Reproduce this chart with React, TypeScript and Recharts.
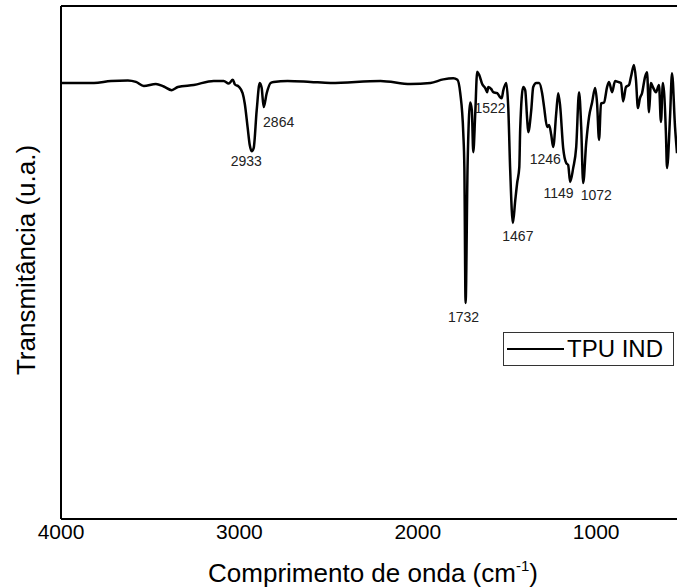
import { Legend, Line, LineChart, ReferenceDot, ReferenceLine, XAxis, YAxis } from 'recharts'

document.body.style.margin = '0'

const FONT = '"Liberation Sans", Arial, Helvetica, sans-serif'

// wavenumber (cm-1)
const wavenumbers = [
  4000, 3815, 3720, 3625, 3580, 3536, 3468, 3424, 3379, 3345,
  3256, 3144, 3088, 3060, 3037, 3025, 3004, 2982, 2970, 2954,
  2942, 2931, 2920, 2903, 2886, 2875, 2864, 2847, 2825, 2808,
  2730, 2601, 2489, 2209, 2041, 1929, 1857, 1801, 1778, 1762,
  1745, 1739, 1732, 1721, 1706, 1697, 1689, 1678, 1667, 1655,
  1639, 1622, 1611, 1605, 1588, 1577, 1555, 1538, 1530, 1521,
  1504, 1493, 1482, 1467, 1454, 1443, 1431, 1426, 1409, 1398,
  1387, 1381, 1364, 1353, 1336, 1320, 1303, 1292, 1275, 1264,
  1252, 1241, 1224, 1213, 1202, 1185, 1168, 1157, 1146, 1129,
  1112, 1096, 1084, 1073, 1056, 1040, 1023, 1006, 995, 984,
  973, 956, 939, 928, 911, 894, 877, 861, 849, 833,
  816, 805, 788, 777, 766, 755, 743, 726, 715, 704,
  693, 682, 665, 648, 637, 626, 609, 603, 586, 575,
  558, 547,
]

// transmittance (a.u.)
const transmittance = [
  85.0, 85.0, 85.4, 85.5, 85.2, 84.4, 84.8, 84.3, 83.6, 84.2,
  84.6, 85.4, 85.4, 84.9, 85.6, 84.7, 84.3, 83.0, 81.0, 76.4,
  72.9, 71.7, 72.3, 79.7, 85.0, 84.0, 80.3, 83.0, 85.0, 85.2,
  85.4, 85.2, 85.0, 85.4, 84.8, 85.0, 85.7, 85.9, 85.6, 83.0,
  75.2, 68.6, 42.1, 68.6, 81.2, 79.7, 71.5, 79.0, 87.2, 86.5,
  84.8, 84.0, 83.2, 84.2, 83.8, 83.2, 83.0, 82.2, 82.0, 83.5,
  85.0, 80.3, 68.0, 57.7, 62.0, 65.5, 68.6, 76.0, 84.2, 83.6,
  78.0, 75.4, 79.7, 84.2, 85.0, 85.0, 83.0, 80.3, 76.4, 76.8,
  74.9, 72.5, 79.1, 83.0, 80.5, 72.3, 69.4, 69.0, 65.7, 68.4,
  72.5, 83.2, 76.4, 65.5, 73.3, 78.4, 81.2, 84.0, 81.0, 73.9,
  81.0, 81.2, 84.2, 85.2, 83.2, 85.4, 85.2, 85.0, 81.4, 84.2,
  84.6, 86.2, 88.5, 85.6, 80.1, 82.0, 83.0, 86.2, 87.1, 79.3,
  85.0, 84.2, 83.2, 84.6, 77.4, 85.0, 75.1, 68.4, 78.4, 86.9,
  76.4, 71.3,
]

const peaks = [2933, 2864, 1732, 1522, 1467, 1246, 1149, 1072]
const xTicks = [4000, 3000, 2000, 1000]

// where each peak label sits relative to its band minimum (px)
const labelShift: Record<number, [number, number]> = {
  2933: [-5, 11],
  2864: [15, 15],
  1732: [-2, 14],
  1522: [-13, 16],
  1467: [5, 13],
  1246: [-7, 18],
  1149: [-11, 16],
  1072: [13, 14],
}

const spectrum = wavenumbers.map((wn, i) => ({ wn, t: transmittance[i] }))

// value of the spectrum at a wavenumber, for placing the labels
const valueAt = (wn: number) => {
  for (let i = 0; i < wavenumbers.length - 1; i++) {
    const a = wavenumbers[i]
    const b = wavenumbers[i + 1]
    if (wn <= a && wn >= b) {
      const f = (a - wn) / (a - b)
      return transmittance[i] + f * (transmittance[i + 1] - transmittance[i])
    }
  }
  return transmittance[transmittance.length - 1]
}

const LegendBox = () => (
  <div
    style={{
      width: 171,
      height: 34,
      boxSizing: 'border-box',
      border: '1px solid #333',
      background: '#fff',
      display: 'flex',
      alignItems: 'center',
      fontFamily: FONT,
      fontSize: 24,
      color: '#000',
      lineHeight: 1,
    }}
  >
    <svg width={63} height={10} style={{ flex: 'none' }}>
      <line x1={3} x2={60} y1={5} y2={5} stroke="#000" strokeWidth={2} />
    </svg>
    <span>TPU IND</span>
  </div>
)

export default function App() {
  return (
    <LineChart
      width={677}
      height={587}
      data={spectrum}
      margin={{ top: 6, right: 0, bottom: 10, left: 0 }}
    >
      <XAxis
        dataKey="wn"
        type="number"
        domain={[547, 4000]}
        reversed
        ticks={xTicks}
        height={58}
        tickLine={false}
        tickSize={0}
        tickMargin={5}
        axisLine={{ stroke: '#000', strokeWidth: 2 }}
        tick={{ fill: '#000', fontSize: 21, fontFamily: FONT }}
        label={{
          content: () => (
            <text x={373} y={582} textAnchor="middle" fontFamily={FONT} fontSize={26} fill="#000">
              Comprimento de onda (cm
              <tspan dy={-11} fontSize={15}>-1</tspan>
              <tspan dy={11}>)</tspan>
            </text>
          ),
        }}
      />
      <YAxis
        type="number"
        domain={[0, 100]}
        width={61}
        tick={false}
        tickLine={false}
        axisLine={{ stroke: '#000', strokeWidth: 2 }}
        label={{
          content: () => (
            <text
              x={35}
              y={260}
              textAnchor="middle"
              transform="rotate(-90 35 260)"
              fontFamily={FONT}
              fontSize={26}
              fill="#000"
            >
              Transmitância (u.a.)
            </text>
          ),
        }}
      />
      <ReferenceLine y={100} stroke="#000" strokeWidth={2} />
      <Line
        type="monotone"
        dataKey="t"
        stroke="#000"
        strokeWidth={2.5}
        dot={false}
        activeDot={false}
        isAnimationActive={false}
      />
      {peaks.map((p) => (
        <ReferenceDot
          key={p}
          x={p}
          y={valueAt(p)}
          r={0}
          shape={(props: any) => (
            <text
              x={props.cx + labelShift[p][0]}
              y={props.cy + labelShift[p][1]}
              textAnchor="middle"
              dominantBaseline="central"
              fontFamily={FONT}
              fontSize={14}
              fill="#222"
            >
              {p}
            </text>
          )}
        />
      ))}
      <Legend
        layout="horizontal"
        verticalAlign="middle"
        align="center"
        wrapperStyle={{ left: 503, top: 332, width: 171, height: 34 }}
        content={() => <LegendBox />}
      />
    </LineChart>
  )
}
